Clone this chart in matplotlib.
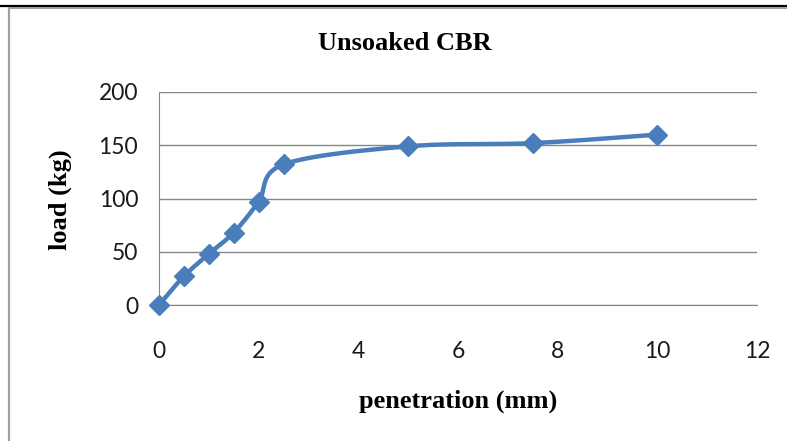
import numpy as np
import matplotlib.pyplot as plt
from matplotlib.lines import Line2D

BLUE = "#4A7EBB"
GRID = "#868686"

penetration = [0, 0.5, 1, 1.5, 2, 2.5, 5, 7.5, 10]
load = [0, 27, 48, 68, 97, 132, 149, 152, 160]

x_ticks = [0, 2, 4, 6, 8, 10, 12]
y_ticks = [0, 50, 100, 150, 200]


def smooth(xs, ys, sx, sy, n=40):
    # Excel-like smoothed line: cubic Bezier with Catmull-Rom control points,
    # computed in screen-ish units
    p = np.column_stack([np.array(xs) * sx, np.array(ys) * sy])
    out = []
    for i in range(len(p) - 1):
        p0 = p[i - 1] if i > 0 else p[i]
        p1, p2 = p[i], p[i + 1]
        p3 = p[i + 2] if i + 2 < len(p) else p[i + 1]
        c1 = p1 + (p2 - p0) / 6
        c2 = p2 - (p3 - p1) / 6
        t = np.linspace(0, 1, n)[:, None]
        seg = ((1 - t) ** 3) * p1 + 3 * ((1 - t) ** 2) * t * c1 \
            + 3 * (1 - t) * t ** 2 * c2 + t ** 3 * p2
        out.append(seg if i == 0 else seg[1:])
    out = np.vstack(out)
    return out[:, 0] / sx, out[:, 1] / sy


W, H = 787, 441
fig = plt.figure(figsize=(W / 100, H / 100), dpi=100)
fig.patch.set_facecolor("white")
ax = fig.add_axes([159 / W, 1 - 305 / H, 598 / W, 213 / H])

sx_, sy_ = smooth(penetration, load, 598 / 12, 213 / 200)
ax.plot(sx_, sy_, color=BLUE, lw=3.2, solid_capstyle="round", zorder=3)
ax.plot(penetration, load, linestyle="none", marker="D", markersize=10,
        color=BLUE, zorder=4, clip_on=False)

ax.set_xlim(0, 12)
ax.set_ylim(0, 200)
ax.set_xticks(x_ticks)
ax.set_yticks(y_ticks)
ax.yaxis.grid(True, color=GRID, lw=1)
ax.set_axisbelow(True)
for s in ["top", "right"]:
    ax.spines[s].set_visible(False)
ax.spines["left"].set_color(GRID)
ax.spines["bottom"].set_color(GRID)
ax.tick_params(length=0, labelsize=16.5, labelcolor="#1a1a1a")
ax.tick_params(axis="x", pad=26)
ax.tick_params(axis="y", pad=15)
for lab in ax.get_xticklabels() + ax.get_yticklabels():
    lab.set_family("Lato")

serif = dict(family="Liberation Serif", fontweight="bold", fontsize=19)
fig.text(404.5 / W, 1 - 44 / H, "Unsoaked CBR", ha="center", va="center", **serif)
fig.text(458 / W, 1 - 401 / H, "penetration (mm)", ha="center", va="center", **serif)
fig.text(60 / W, 1 - 200 / H, "load (kg)", ha="center", va="center",
         rotation=90, **serif)

# page frame lines
fig.add_artist(Line2D([0, 1], [1 - 5.5 / H] * 2, color="black", lw=1.6,
                      transform=fig.transFigure))
fig.add_artist(Line2D([8.5 / W, 1], [1 - 8 / H] * 2, color="#A0A0A0", lw=1.4,
                      transform=fig.transFigure))
fig.add_artist(Line2D([9 / W] * 2, [0, 1 - 8 / H], color="#A0A0A0", lw=1.6,
                      transform=fig.transFigure))

fig.savefig("out.png", dpi=100, facecolor="white")
